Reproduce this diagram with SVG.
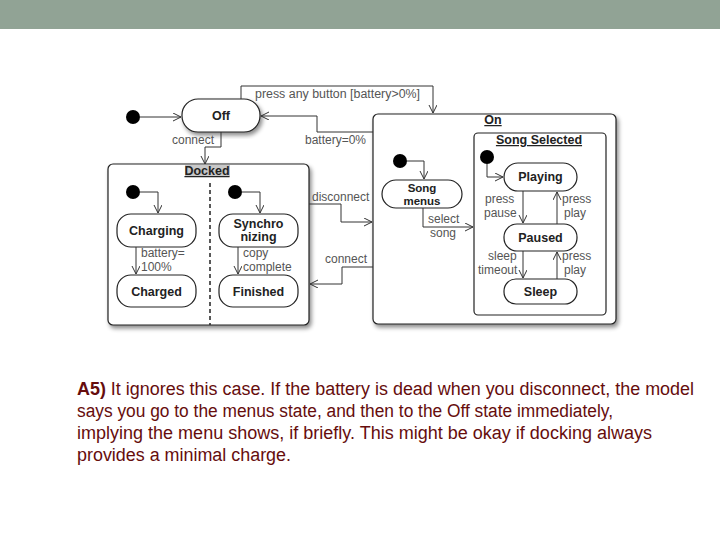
<svg xmlns="http://www.w3.org/2000/svg" width="720" height="540" viewBox="0 0 720 540">
<defs>
<filter id="sh" x="-10%" y="-10%" width="125%" height="130%">
<feDropShadow dx="2" dy="3" stdDeviation="2" flood-color="#000" flood-opacity="0.45"/>
</filter>
<marker id="ar" markerWidth="10" markerHeight="10" refX="8" refY="4" orient="auto" markerUnits="userSpaceOnUse">
<path d="M0,0 L8,4 L0,8" fill="none" stroke="#333" stroke-width="1"/>
</marker>
</defs>
<style>
.st{fill:#fff;stroke:#222;stroke-width:1.2}
.box{fill:#fff;stroke:#222;stroke-width:1.2}
.sn{font-family:"Liberation Sans",Arial,sans-serif;font-weight:bold;font-size:12.5px;fill:#222;text-anchor:middle}
.lb{font-family:"Liberation Sans",Arial,sans-serif;font-size:12px;fill:#555}
.ti{font-family:"Liberation Sans",Arial,sans-serif;font-weight:bold;font-size:12.5px;fill:#222;text-anchor:middle;text-decoration:underline}
.cn{fill:none;stroke:#333;stroke-width:1;marker-end:url(#ar)}
.dot{fill:#000}
.body{font-family:"Liberation Sans",Arial,sans-serif;font-size:18px;fill:#660d0d}
</style>
<rect x="0" y="0" width="720" height="29" fill="#91a395"/>

<g id="docked">
<rect class="box" x="108" y="164" width="201" height="161" rx="5" filter="url(#sh)"/>
<rect x="185" y="165" width="45" height="11" fill="#c8c8c8"/>
<text class="ti" x="207" y="175">Docked</text>
<line x1="210" y1="183" x2="210" y2="325" stroke="#222" stroke-width="1.5" stroke-dasharray="4,3"/>
</g>
<g id="on">
<rect class="box" x="373" y="114" width="243" height="210" rx="5" filter="url(#sh)"/>
<text class="ti" x="493" y="124">On</text>
</g>
<g id="songselected">
<rect class="box" x="474" y="133" width="132" height="182" rx="4"/>
<text class="ti" x="539" y="144">Song Selected</text>
</g>

<g id="off">
<rect class="st" x="182" y="99" width="78" height="33" rx="16" filter="url(#sh)"/>
<text class="sn" x="221" y="120">Off</text>
</g>
<g id="init-off"><circle class="dot" cx="133" cy="117" r="7"/></g>
<g id="init-charging"><circle class="dot" cx="133" cy="192" r="7"/></g>
<g id="init-synchro"><circle class="dot" cx="235" cy="192" r="7"/></g>
<g id="init-menus"><circle class="dot" cx="400" cy="161" r="7"/></g>
<g id="init-ss"><circle class="dot" cx="487" cy="157" r="7"/></g>

<g id="charging">
<rect class="st" x="117" y="214" width="79" height="33" rx="14"/>
<text class="sn" x="156.5" y="235">Charging</text>
</g>
<g id="charged">
<rect class="st" x="117" y="275" width="79" height="32" rx="14"/>
<text class="sn" x="156.5" y="296">Charged</text>
</g>
<g id="synchronizing">
<rect class="st" x="219" y="214" width="79" height="33" rx="14"/>
<text class="sn" x="258.5" y="228">Synchro</text>
<text class="sn" x="258.5" y="241">nizing</text>
</g>
<g id="finished">
<rect class="st" x="219" y="275" width="79" height="32" rx="14"/>
<text class="sn" x="258.5" y="296">Finished</text>
</g>
<g id="songmenus">
<rect class="st" x="382" y="180" width="80" height="28" rx="14"/>
<text class="sn" x="422" y="192" style="font-size:11.5px">Song</text>
<text class="sn" x="422" y="205" style="font-size:11.5px">menus</text>
</g>
<g id="playing">
<rect class="st" x="504" y="163" width="73" height="28" rx="14"/>
<text class="sn" x="540.5" y="181">Playing</text>
</g>
<g id="paused">
<rect class="st" x="504" y="224" width="73" height="27" rx="13"/>
<text class="sn" x="540.5" y="242">Paused</text>
</g>
<g id="sleep">
<rect class="st" x="504" y="279" width="73" height="25" rx="12"/>
<text class="sn" x="540.5" y="296">Sleep</text>
</g>

<g id="connectors">
<path class="cn" d="M140,117 H181"/>
<path class="cn" d="M241,99 V86 H433 V113"/>
<path class="cn" d="M373,132 H317 V116 H261"/>
<path class="cn" d="M221,132 V147 H205 V164"/>
<path class="cn" d="M140,192 H158 V213"/>
<path class="cn" d="M136,247 V274"/>
<path class="cn" d="M242,192 H260 V213"/>
<path class="cn" d="M238,247 V274"/>
<path class="cn" d="M309,204 H341 V222 H372"/>
<path class="cn" d="M373,267 H342 V284 H310"/>
<path class="cn" d="M407,161 H424 V179"/>
<path class="cn" d="M423,208 V227 H473"/>
<path class="cn" d="M487,164 V177 H503"/>
<path class="cn" d="M523,191 V223"/>
<path class="cn" d="M557,224 V192"/>
<path class="cn" d="M523,251 V278"/>
<path class="cn" d="M557,279 V252"/>
<text class="lb" x="255" y="98" textLength="165" lengthAdjust="spacingAndGlyphs">press any button [battery&gt;0%]</text>
<text class="lb" x="305" y="144">battery=0%</text>
<text class="lb" x="172" y="144">connect</text>
<text class="lb" x="141" y="257">battery=</text>
<text class="lb" x="141" y="271">100%</text>
<text class="lb" x="243" y="257">copy</text>
<text class="lb" x="243" y="271">complete</text>
<text class="lb" x="312" y="201">disconnect</text>
<text class="lb" x="325" y="263">connect</text>
<text class="lb" x="428" y="223">select</text>
<text class="lb" x="430" y="237">song</text>
<text class="lb" x="485" y="203">press</text>
<text class="lb" x="484" y="217">pause</text>
<text class="lb" x="562" y="203">press</text>
<text class="lb" x="564" y="217">play</text>
<text class="lb" x="488" y="260">sleep</text>
<text class="lb" x="478" y="274">timeout</text>
<text class="lb" x="562" y="260">press</text>
<text class="lb" x="564" y="274">play</text>
</g>

<g id="caption">
<text class="body" x="77" y="395" textLength="617" lengthAdjust="spacingAndGlyphs"><tspan font-weight="bold">A5)</tspan> It ignores this case. If the battery is dead when you disconnect, the model</text>
<text class="body" x="77" y="417" textLength="536" lengthAdjust="spacingAndGlyphs">says you go to the menus state, and then to the Off state immediately,</text>
<text class="body" x="77" y="439" textLength="575" lengthAdjust="spacingAndGlyphs">implying the menu shows, if briefly. This might be okay if docking always</text>
<text class="body" x="77" y="461" textLength="214" lengthAdjust="spacingAndGlyphs">provides a minimal charge.</text>
</g>
</svg>
